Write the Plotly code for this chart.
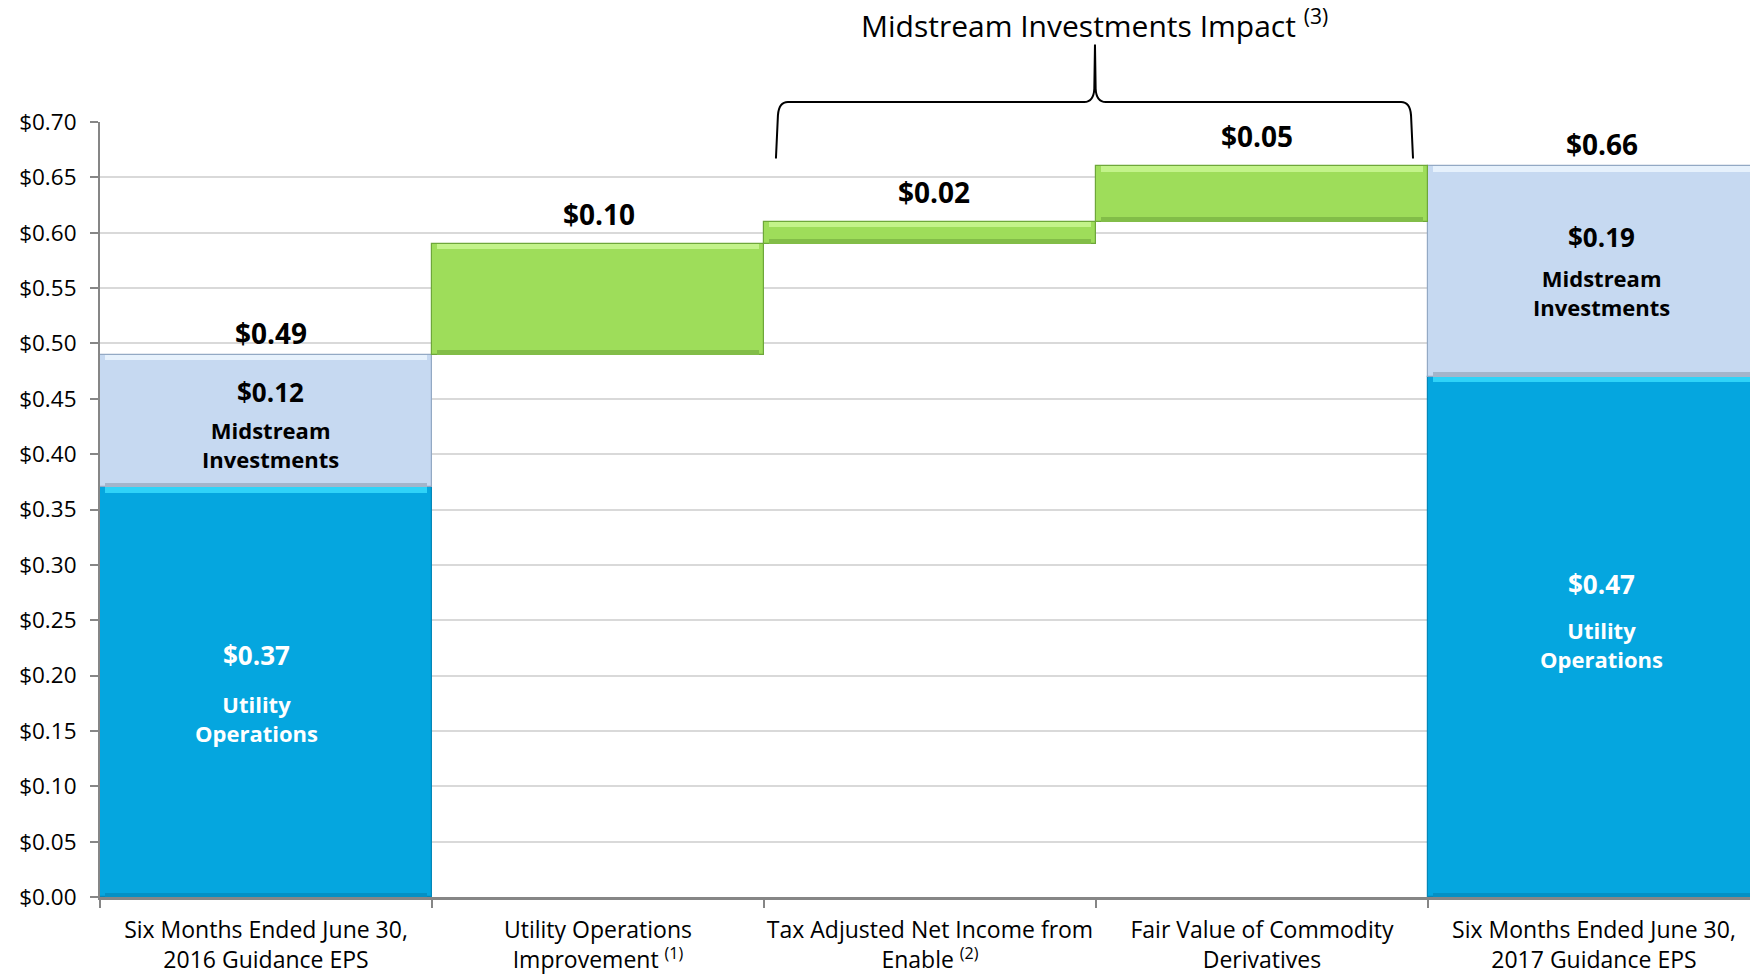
import plotly.graph_objects as go

# ---------------- data ----------------
categories = [
    "Six Months Ended June 30,<br>2016 Guidance EPS",
    "Utility Operations<br>Improvement <sup>(1)</sup>",
    "Tax Adjusted Net Income from<br>Enable <sup>(2)</sup>",
    "Fair Value of Commodity<br>Derivatives",
    "Six Months Ended June 30,<br>2017 Guidance EPS",
]
total_idx = [0, 4]
utility_ops = [0.37, 0.47]
midstream = [0.12, 0.19]
change_idx = [1, 2, 3]
changes = [0.10, 0.02, 0.05]
y_ticks = [0.0, 0.05, 0.10, 0.15, 0.20, 0.25, 0.30, 0.35, 0.40, 0.45, 0.50, 0.55, 0.60, 0.65, 0.70]

# ---------------- derived ----------------
start_total = utility_ops[0] + midstream[0]
change_base = []
running = start_total
for c in changes:
    change_base.append(running)
    running += c
totals = [u + m for u, m in zip(utility_ops, midstream)]
cat_t = [categories[i] for i in total_idx]
cat_c = [categories[i] for i in change_idx]

FONT = "Open Sans"
BLUE = "#05A6DF"
LBLUE = "#C6D9F1"
GREEN = "#9EDD5A"

X_MAX = 4.47
Y_MAX = 0.70
HL = 0.005   # bevel strip thickness (value units)
SH = 0.004

fig = go.Figure()

def bar(x, y, base, color, line):
    fig.add_trace(go.Bar(x=x, y=y, base=base, marker=dict(color=color, line=dict(color=line, width=1.2)),
                         hoverinfo="skip", showlegend=False))

def strips(x, y, base, hi, lo):
    tops = [b + v for b, v in zip(base, y)]
    fig.add_trace(go.Bar(x=x, y=[min(HL, v * 0.3) for v in y], base=[t - min(HL, v * 0.3) for t, v in zip(tops, y)],
                         marker=dict(color=hi, line=dict(width=0)), width=0.97, hoverinfo="skip", showlegend=False))
    fig.add_trace(go.Bar(x=x, y=[min(SH, v * 0.2) for v in y], base=base,
                         marker=dict(color=lo, line=dict(width=0)), width=0.97, hoverinfo="skip", showlegend=False))

bar(cat_t, utility_ops, [0, 0], BLUE, "#0487B8")
strips(cat_t, utility_ops, [0, 0], "#2FD3F8", "#0490C4")
bar(cat_t, midstream, utility_ops, LBLUE, "#93A9C4")
strips(cat_t, midstream, utility_ops, "#E6F1FC", "#A3B5CB")
bar(cat_c, changes, change_base, GREEN, "#6EA73A")
strips(cat_c, changes, change_base, "#C3F38A", "#82BD48")

ann = []
tot_xshift = [5, 8]
# totals above bars
for k, (c, t) in enumerate(zip(cat_t, totals)):
    ann.append(dict(x=c, y=t, text="<b>$%.2f</b>" % t, showarrow=False, yanchor="bottom", yshift=1,
                    xshift=tot_xshift[k], font=dict(family=FONT, size=28, color="#000")))
# changes above bars
chg_xshift = [1, 4, -5]
for k, (c, b, v) in enumerate(zip(cat_c, change_base, changes)):
    ann.append(dict(x=c, y=b + v, text="<b>$%.2f</b>" % v, showarrow=False, yanchor="bottom", yshift=9,
                    xshift=chg_xshift[k], font=dict(family=FONT, size=28, color="#000")))
# inside labels
val_shift_m = [29, 34]
lab_shift_m = [-24, -21]
val_shift_u = [37, 53]
lab_shift_u = [-26, -8]
x_shift_m = [4, 8]
x_shift_u = [-10, 8]
for k, c in enumerate(cat_t):
    mid_c = utility_ops[k] + midstream[k] / 2
    ann.append(dict(x=c, y=mid_c, text="<b>$%.2f</b>" % midstream[k], showarrow=False, yshift=val_shift_m[k],
                    xshift=x_shift_m[k], font=dict(family=FONT, size=26, color="#000")))
    ann.append(dict(x=c, y=mid_c, text="<b>Midstream<br>Investments</b>", showarrow=False, yshift=lab_shift_m[k],
                    xshift=x_shift_m[k], font=dict(family=FONT, size=22, color="#000")))
    ut_c = utility_ops[k] / 2
    ann.append(dict(x=c, y=ut_c, text="<b>$%.2f</b>" % utility_ops[k], showarrow=False, yshift=val_shift_u[k],
                    xshift=x_shift_u[k], font=dict(family=FONT, size=26, color="#FFFFFF")))
    ann.append(dict(x=c, y=ut_c, text="<b>Utility<br>Operations</b>", showarrow=False, yshift=lab_shift_u[k],
                    xshift=x_shift_u[k], font=dict(family=FONT, size=22, color="#FFFFFF")))

# brace title
def px(c):
    return (c + 0.5) / (X_MAX + 0.5)

def py(v):
    return v / Y_MAX

ann.append(dict(x=px(2.497), y=py(0.8105), xref="paper", yref="paper",
                text="Midstream Investments Impact <sup>(3)</sup>", showarrow=False,
                font=dict(family=FONT, size=30, color="#000")))

# brace path (category units / value units converted to paper)
xl, xr, xc = 1.536, 3.455, 2.497
yb, yt, ytip = 0.667, 0.718, 0.770
dx = 0.036
dy = 0.012
pts = (
    f"M {px(xl)},{py(yb)} "
    f"L {px(xl + 0.006)},{py(yt - dy)} "
    f"Q {px(xl + 0.009)},{py(yt)} {px(xl + dx)},{py(yt)} "
    f"L {px(xc - dx * 0.9)},{py(yt)} "
    f"Q {px(xc - 0.004)},{py(yt)} {px(xc - 0.002)},{py(yt + dy)} "
    f"L {px(xc)},{py(ytip)} "
    f"L {px(xc + 0.002)},{py(yt + dy)} "
    f"Q {px(xc + 0.004)},{py(yt)} {px(xc + dx * 0.9)},{py(yt)} "
    f"L {px(xr - dx)},{py(yt)} "
    f"Q {px(xr - 0.009)},{py(yt)} {px(xr - 0.006)},{py(yt - dy)} "
    f"L {px(xr)},{py(yb)}"
)
shapes = [dict(type="path", path=pts, xref="paper", yref="paper", line=dict(color="#000", width=2))]

fig.update_layout(
    width=1750, height=976,
    margin=dict(l=100, r=0, t=122, b=79, autoexpand=False),
    paper_bgcolor="white", plot_bgcolor="white",
    barmode="overlay", bargap=0,
    showlegend=False,
    annotations=ann, shapes=shapes,
    font=dict(family=FONT, size=20, color="#000"),
)
fig.update_xaxes(
    type="category", categoryorder="array", categoryarray=categories,
    range=[-0.5, X_MAX], tickson="boundaries", ticks="outside", ticklen=8, tickcolor="#868686", tickwidth=1.5,
    showline=True, linecolor="#868686", linewidth=2.5, showgrid=False,
    ticklabelstandoff=11, tickangle=0, automargin=False,
    tickfont=dict(family=FONT, size=23, color="#000"),
)
fig.update_yaxes(
    range=[0, Y_MAX], tickvals=y_ticks, ticktext=["$%.2f" % v for v in y_ticks],
    ticks="outside", ticklen=8, tickcolor="#868686", tickwidth=1.5,
    showline=True, linecolor="#868686", linewidth=2,
    showgrid=True, gridcolor="#D9D9D9", gridwidth=2, zeroline=False,
    ticklabelstandoff=9, automargin=False,
    tickfont=dict(family=FONT, size=22.5, color="#000"),
)

fig.write_html("out.html", config={"displayModeBar": False},
               post_script="document.body.style.margin='0';document.body.style.overflow='hidden';")
